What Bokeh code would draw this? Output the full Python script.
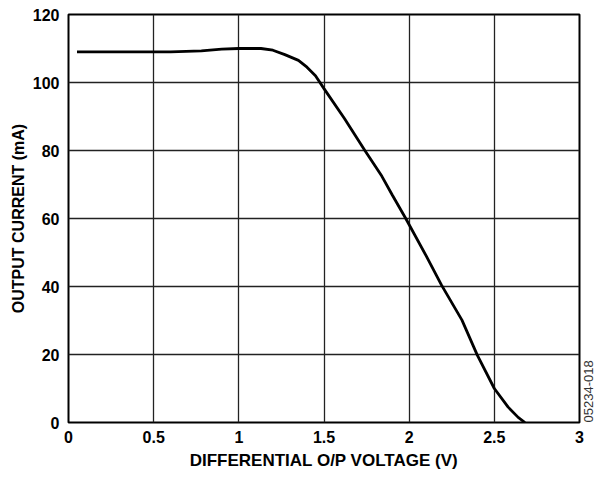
import math
from bokeh.plotting import figure
from bokeh.models import Range1d, FixedTicker, LinearAxis
from bokeh.embed import file_html
from bokeh.resources import INLINE

# Data
voltage = [0.05, 0.3, 0.6, 0.78, 0.9, 1.0, 1.13, 1.2, 1.27, 1.35, 1.4, 1.45, 1.5,
           1.62, 1.74, 1.84, 1.9, 1.98, 2.1, 2.19, 2.31, 2.4, 2.5, 2.58, 2.64, 2.68]
current = [109.0, 109.0, 109.0, 109.3, 109.8, 110.0, 110.0, 109.5, 108.2, 106.5, 104.5, 102.0, 98.2,
           89.4, 80.0, 72.4, 67.0, 60.0, 49.0, 40.4, 30.1, 19.8, 10.0, 4.6, 1.5, 0.0]

x_ticks = [0, 0.5, 1, 1.5, 2, 2.5, 3]
x_tick_labels = ["0", "0.5", "1", "1.5", "2", "2.5", "3"]
y_ticks = [0, 20, 40, 60, 80, 100, 120]
figure_code = "05234-018"
figure_code_y = 0

FONT = "Liberation Sans"

p = figure(frame_width=511, frame_height=408, output_backend="svg", toolbar_location=None,
           x_range=Range1d(0, 3), y_range=Range1d(0, 120),
           min_border_left=68, min_border_right=0, min_border_top=14, min_border_bottom=30)

p.line(voltage, current, line_color="black", line_width=2.8)

p.outline_line_color = "black"
p.outline_line_width = 2

for ax in (p.xaxis, p.yaxis):
    ax.axis_line_color = None
    ax.major_tick_line_color = None
    ax.minor_tick_line_color = None
    ax.major_tick_out = 0
    ax.major_tick_in = 0
    ax.minor_tick_out = 0
    ax.major_label_text_font = FONT
    ax.major_label_text_font_style = "bold"
    ax.major_label_text_font_size = "16px"
    ax.major_label_text_color = "black"
    ax.axis_label_text_font = FONT
    ax.axis_label_text_font_style = "bold"
    ax.axis_label_text_color = "black"

p.xaxis.axis_label_text_font_size = "17px"
p.yaxis.axis_label_text_font_size = "16px"

p.xaxis.ticker = FixedTicker(ticks=x_ticks)
p.xaxis.major_label_overrides = {t: l for t, l in zip(x_ticks, x_tick_labels)}
p.yaxis.ticker = FixedTicker(ticks=y_ticks)
p.xaxis.axis_label = "DIFFERENTIAL O/P VOLTAGE (V)"
p.yaxis.axis_label = "OUTPUT CURRENT (mA)"
p.xaxis.major_label_standoff = 8
p.yaxis.major_label_standoff = 9
p.xaxis.axis_label_standoff = 5
p.yaxis.axis_label_standoff = 3

p.xgrid.ticker = FixedTicker(ticks=x_ticks)
p.ygrid.ticker = FixedTicker(ticks=y_ticks)
for g in (p.xgrid, p.ygrid):
    g.grid_line_color = "#222222"
    g.grid_line_width = 1.3
    g.grid_line_alpha = 1.0

# figure code on the right, vertical
code_axis = LinearAxis(ticker=FixedTicker(ticks=[figure_code_y]),
                       major_label_overrides={figure_code_y: figure_code},
                       major_label_orientation=math.pi / 2,
                       axis_line_color=None, major_tick_line_color=None,
                       minor_tick_line_color=None,
                       major_tick_out=0, major_tick_in=0, minor_tick_out=0,
                       major_label_standoff=9,
                       major_label_text_font=FONT,
                       major_label_text_font_size="13px",
                       major_label_text_color="#333333")
p.add_layout(code_axis, "right")

open("out.html", "w").write(file_html(p, INLINE))
